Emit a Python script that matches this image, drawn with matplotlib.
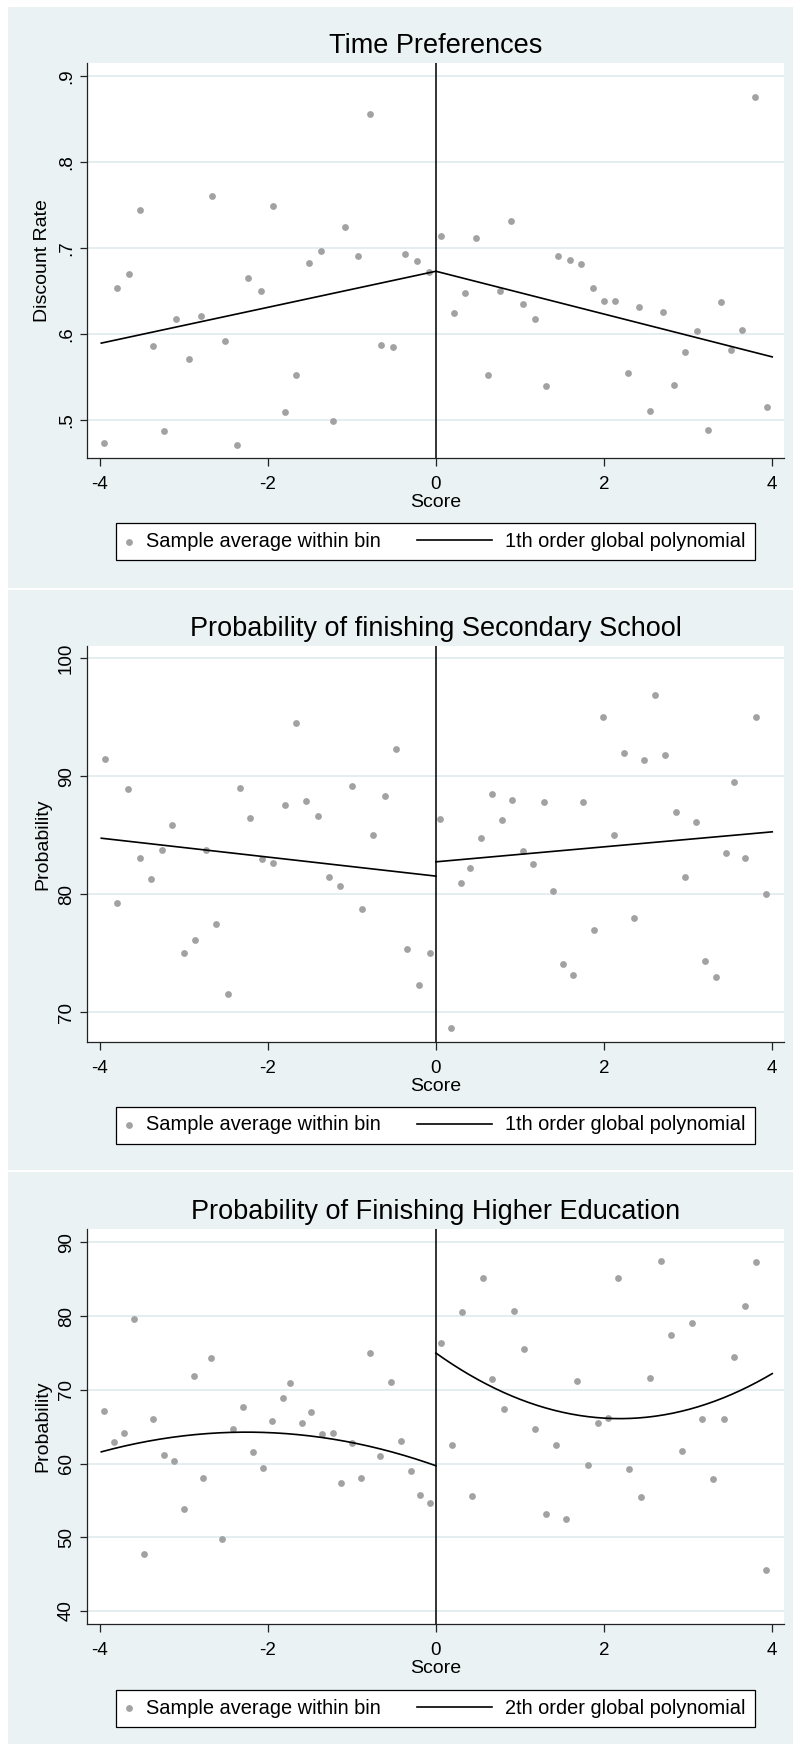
import numpy as np
import matplotlib
matplotlib.use("Agg")
import matplotlib.pyplot as plt
from matplotlib.patches import Rectangle
from matplotlib.legend_handler import HandlerPathCollection

plt.rcParams['font.family'] = ['Liberation Sans', 'DejaVu Sans']
plt.rcParams['axes.unicode_minus'] = False

# ---------------- data ----------------
x_ticks = [-4, -2, 0, 2, 4]
x_ticklabels = ['-4', '-2', '0', '2', '4']
x_label = 'Score'
scatter_label = 'Sample average within bin'

# Panel 1: Time Preferences
tp_title = 'Time Preferences'
tp_ylabel = 'Discount Rate'
tp_yticks = [0.5, 0.6, 0.7, 0.8, 0.9]
tp_yticklabels = ['.5', '.6', '.7', '.8', '.9']
tp_left_x = [-3.95, -3.79, -3.65, -3.52, -3.37, -3.23, -3.09, -2.94, -2.80, -2.66,
             -2.51, -2.36, -2.23, -2.08, -1.94, -1.80, -1.66, -1.51, -1.37, -1.22,
             -1.08, -0.93, -0.78, -0.65, -0.51, -0.37, -0.23, -0.08]
tp_left_y = [0.474, 0.653, 0.670, 0.744, 0.586, 0.487, 0.617, 0.571, 0.621, 0.761,
             0.592, 0.471, 0.665, 0.650, 0.749, 0.509, 0.553, 0.683, 0.696, 0.499,
             0.725, 0.691, 0.856, 0.587, 0.585, 0.693, 0.685, 0.672]
tp_right_x = [0.06, 0.21, 0.34, 0.48, 0.62, 0.76, 0.89, 1.04, 1.18, 1.31,
              1.45, 1.59, 1.73, 1.87, 2.00, 2.13, 2.29, 2.42, 2.55, 2.70,
              2.83, 2.96, 3.10, 3.24, 3.39, 3.51, 3.64, 3.79, 3.94]
tp_right_y = [0.714, 0.625, 0.648, 0.712, 0.553, 0.650, 0.731, 0.635, 0.617, 0.540,
              0.691, 0.686, 0.681, 0.654, 0.638, 0.639, 0.555, 0.631, 0.511, 0.626,
              0.541, 0.579, 0.603, 0.489, 0.637, 0.582, 0.605, 0.875, 0.515]
tp_fit_left_x = [-3.98, 0.0]
tp_fit_left_y = [0.5895, 0.673]
tp_fit_right_x = [0.0, 4.0]
tp_fit_right_y = [0.673, 0.5735]
tp_fit_label = '1th order global polynomial'

# Panel 2: Secondary school
ss_title = 'Probability of finishing Secondary School'
ss_ylabel = 'Probability'
ss_yticks = [70, 80, 90, 100]
ss_yticklabels = ['70', '80', '90', '100']
ss_left_x = [-3.94, -3.79, -3.66, -3.52, -3.39, -3.26, -3.14, -3.00, -2.86, -2.73,
             -2.61, -2.47, -2.33, -2.21, -2.07, -1.94, -1.80, -1.67, -1.54, -1.40,
             -1.27, -1.14, -1.00, -0.88, -0.75, -0.60, -0.47, -0.34, -0.20, -0.07]
ss_left_y = [91.5, 79.3, 88.9, 83.1, 81.3, 83.8, 85.9, 75.0, 76.1, 83.8,
             77.5, 71.6, 89.0, 86.5, 83.0, 82.7, 87.6, 94.5, 87.9, 86.6,
             81.5, 80.7, 89.2, 78.8, 85.0, 88.3, 92.3, 75.4, 72.3, 75.0]
ss_right_x = [0.05, 0.18, 0.30, 0.41, 0.54, 0.67, 0.79, 0.91, 1.03, 1.15,
              1.28, 1.39, 1.51, 1.63, 1.75, 1.88, 1.99, 2.12, 2.24, 2.36,
              2.47, 2.60, 2.72, 2.85, 2.96, 3.09, 3.20, 3.33, 3.45, 3.55,
              3.68, 3.81, 3.93]
ss_right_y = [86.4, 68.7, 81.0, 82.2, 84.8, 88.5, 86.3, 88.0, 83.7, 82.6,
              87.8, 80.3, 74.1, 73.2, 87.8, 77.0, 95.0, 85.0, 92.0, 78.0,
              91.4, 96.9, 91.8, 87.0, 81.5, 86.1, 74.4, 73.0, 83.5, 89.5,
              83.1, 95.0, 80.0]
ss_fit_left_x = [-3.98, 0.0]
ss_fit_left_y = [84.76, 81.55]
ss_fit_right_x = [0.0, 4.0]
ss_fit_right_y = [82.76, 85.30]
ss_fit_label = '1th order global polynomial'

# Panel 3: Higher education
he_title = 'Probability of Finishing Higher Education'
he_ylabel = 'Probability'
he_yticks = [40, 50, 60, 70, 80, 90]
he_yticklabels = ['40', '50', '60', '70', '80', '90']
he_left_x = [-3.95, -3.83, -3.71, -3.59, -3.47, -3.36, -3.24, -3.12, -3.00, -2.88,
             -2.77, -2.67, -2.54, -2.41, -2.30, -2.18, -2.06, -1.95, -1.82, -1.73,
             -1.59, -1.48, -1.35, -1.23, -1.13, -1.00, -0.89, -0.78, -0.66, -0.54,
             -0.41, -0.30, -0.19, -0.07]
he_left_y = [67.1, 62.9, 64.2, 79.6, 47.7, 66.1, 61.1, 60.3, 53.8, 71.8,
             58.1, 74.3, 49.8, 64.7, 67.6, 61.6, 59.4, 65.7, 68.9, 70.9,
             65.5, 67.0, 64.0, 64.1, 57.3, 62.8, 58.0, 75.0, 61.0, 71.1,
             63.1, 59.0, 55.7, 54.6]
he_right_x = [0.06, 0.19, 0.31, 0.43, 0.56, 0.67, 0.81, 0.93, 1.05, 1.18,
              1.31, 1.43, 1.55, 1.68, 1.81, 1.93, 2.05, 2.17, 2.30, 2.44,
              2.55, 2.68, 2.80, 2.93, 3.04, 3.17, 3.30, 3.43, 3.54, 3.68,
              3.81, 3.93]
he_right_y = [76.4, 62.5, 80.6, 55.6, 85.1, 71.5, 67.4, 80.7, 75.5, 64.7,
              53.1, 62.5, 52.5, 71.2, 59.8, 65.5, 66.2, 85.1, 59.3, 55.5,
              71.6, 87.5, 77.4, 61.7, 79.1, 66.0, 57.9, 66.0, 74.5, 81.4,
              87.3, 45.5]
# points
he_fit_left_x = [-3.98, -3.38, -2.78, -2.30, -1.82, -1.34, -0.97, -0.43, 0.0]
he_fit_left_y = [61.88, 62.74, 63.79, 64.38, 64.20, 63.58, 62.88, 61.25, 59.59]
he_fit_right_x = [0.0, 0.35, 0.83, 1.43, 2.18, 2.94, 3.54, 4.0]
he_fit_right_y = [74.76, 72.86, 69.09, 67.19, 66.42, 66.96, 69.23, 72.40]
he_fit_label = '2th order global polynomial'

# ---------------- styling / layout ----------------
W, H = 793, 1744
BG = '#EAF2F3'
GRID = '#E4EDEF'
DOT = '#A2A2A2'
AXC = '#222222'
XLIM = (-4.15, 4.14)


class NarrowHandler(HandlerPathCollection):
    def legend_artist(self, legend, orig_handle, fontsize, handlebox):
        handlebox.width = 0.4 * fontsize
        return super().legend_artist(legend, orig_handle, fontsize, handlebox)


def frac_rect(l, t, r, b):
    return [l / W, 1 - b / H, (r - l) / W, (b - t) / H]


fig = plt.figure(figsize=(W / 100, H / 100), dpi=100)
fig.patch.set_facecolor('white')


def draw_panel(bg, box, leg_cy, title, ylabel, ylim, yticks, yticklabels,
               lx, ly, rx, ry, flx, fly, frx, fry, fit_label, quad=False):
    l, t, r, b = bg
    fig.add_artist(Rectangle((l / W, 1 - b / H), (r - l) / W, (b - t) / H,
                             transform=fig.transFigure, facecolor=BG,
                             edgecolor='none', zorder=0))
    ax = fig.add_axes(frac_rect(*box))
    ax.set_facecolor('white')
    ax.set_xlim(*XLIM)
    ax.set_ylim(*ylim)
    for s in ('top', 'right'):
        ax.spines[s].set_visible(False)
    for s in ('left', 'bottom'):
        ax.spines[s].set_color(AXC)
        ax.spines[s].set_linewidth(0.9)
    ax.set_xticks(x_ticks)
    ax.set_xticklabels(x_ticklabels)
    ax.set_yticks(yticks)
    ax.set_yticklabels(yticklabels)
    ax.tick_params(axis='both', direction='out', length=5.4, width=0.9,
                   color=AXC, labelsize=13.5, labelcolor='black')
    ax.tick_params(axis='x', pad=7.4)
    ax.tick_params(axis='y', pad=3.2, labelrotation=90)
    for lbl in ax.get_yticklabels():
        lbl.set_va('center')
    ax.grid(axis='y', color=GRID, linewidth=1.4)
    ax.set_axisbelow(True)

    sc = ax.scatter(lx, ly, s=24, color=DOT, linewidths=0, zorder=3,
                    label=scatter_label)
    ax.scatter(rx, ry, s=24, color=DOT, linewidths=0, zorder=3)
    if quad:
        xs = np.linspace(flx[0], flx[-1], 200)
        ys = np.polyval(np.polyfit(flx, fly, 2), xs)
        ln, = ax.plot(xs, ys, color='black', lw=1.2, zorder=4, label=fit_label)
        xs = np.linspace(frx[0], frx[-1], 200)
        ys = np.polyval(np.polyfit(frx, fry, 2), xs)
        ax.plot(xs, ys, color='black', lw=1.2, zorder=4)
    else:
        ln, = ax.plot(flx, fly, color='black', lw=1.2, zorder=4, label=fit_label)
        ax.plot(frx, fry, color='black', lw=1.2, zorder=4)
    ax.axvline(0, color='#111111', lw=1.2, zorder=2)

    ax.set_title(title, fontsize=19.5, pad=7.2, color='black')
    ax.set_xlabel(x_label, fontsize=14)
    ax.xaxis.set_label_coords(0.5, -0.091)
    ax.set_ylabel(ylabel, fontsize=14)
    ax.yaxis.set_label_coords(-0.0517, 0.5)

    leg = ax.legend([sc, ln], [scatter_label, fit_label], ncol=2,
                    loc='center', bbox_to_anchor=(435.5 / W, 1 - leg_cy / H),
                    bbox_transform=fig.transFigure, fontsize=14.4,
                    handlelength=3.75, handletextpad=0.65, columnspacing=1.8,
                    borderpad=0.45, borderaxespad=0, scatterpoints=1,
                    fancybox=False, framealpha=1, edgecolor='black',
                    handler_map={sc: NarrowHandler()})
    leg.get_frame().set_linewidth(0.9)
    return ax


draw_panel((8, 7, 793, 588), (87, 63, 784, 458), 541.5,
           tp_title, tp_ylabel, (0.456, 0.915), tp_yticks, tp_yticklabels,
           tp_left_x, tp_left_y, tp_right_x, tp_right_y,
           tp_fit_left_x, tp_fit_left_y, tp_fit_right_x, tp_fit_right_y,
           tp_fit_label)
draw_panel((8, 590, 793, 1170), (87, 646, 784, 1042), 1125,
           ss_title, ss_ylabel, (67.5, 101.04), ss_yticks, ss_yticklabels,
           ss_left_x, ss_left_y, ss_right_x, ss_right_y,
           ss_fit_left_x, ss_fit_left_y, ss_fit_right_x, ss_fit_right_y,
           ss_fit_label)
draw_panel((8, 1172, 793, 1744), (87, 1229, 784, 1624), 1708,
           he_title, he_ylabel, (38.24, 91.8), he_yticks, he_yticklabels,
           he_left_x, he_left_y, he_right_x, he_right_y,
           he_fit_left_x, he_fit_left_y, he_fit_right_x, he_fit_right_y,
           he_fit_label, quad=True)

fig.savefig('out.png', dpi=100, facecolor='white')
